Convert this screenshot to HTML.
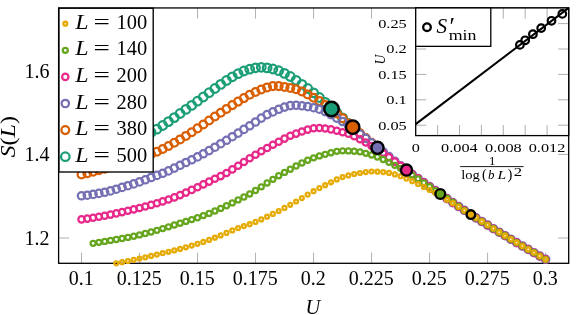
<!DOCTYPE html>
<html><head><meta charset="utf-8"><title>S(L) vs U</title>
<style>html,body{margin:0;padding:0;background:#fff}svg{display:block;will-change:transform}text{font-family:"Liberation Serif","DejaVu Serif",serif;fill:#000}</style></head><body>
<svg width="582" height="315" viewBox="0 0 582 315">
<rect width="582" height="315" fill="#fff"/>
<path d="M81.50 263.3v-10.6M81.50 7.95v10.6M139.51 263.3v-10.6M139.51 7.95v10.6M197.53 263.3v-10.6M197.53 7.95v10.6M255.54 263.3v-10.6M255.54 7.95v10.6M313.55 263.3v-10.6M313.55 7.95v10.6M371.56 263.3v-10.6M371.56 7.95v10.6M429.58 263.3v-10.6M429.58 7.95v10.6M487.59 263.3v-10.6M487.59 7.95v10.6M545.60 263.3v-10.6M545.60 7.95v10.6M58.6 238.0h10.6M568.7 238.0h-10.6M58.6 154.4h10.6M568.7 154.4h-10.6M58.6 70.8h10.6M568.7 70.8h-10.6" stroke="#858585" stroke-width="0.65" fill="none"/>
<rect x="58.6" y="7.95" width="510.1" height="255.35" fill="none" stroke="#000" stroke-width="1.3"/>
<g fill="none" stroke="#1b9e77" stroke-width="2.25">
<circle cx="81.5" cy="159.9" r="4.28"/><circle cx="87.3" cy="158.1" r="4.28"/><circle cx="93.1" cy="156.1" r="4.28"/><circle cx="98.9" cy="154.0" r="4.28"/><circle cx="104.7" cy="151.9" r="4.28"/><circle cx="110.5" cy="149.7" r="4.28"/><circle cx="116.3" cy="147.5" r="4.28"/><circle cx="122.1" cy="145.2" r="4.28"/><circle cx="127.9" cy="142.8" r="4.28"/><circle cx="133.7" cy="140.4" r="4.28"/><circle cx="139.5" cy="137.9" r="4.28"/><circle cx="145.3" cy="135.2" r="4.28"/><circle cx="151.1" cy="132.4" r="4.28"/><circle cx="156.9" cy="129.2" r="4.28"/><circle cx="162.7" cy="125.5" r="4.28"/><circle cx="168.5" cy="121.6" r="4.28"/><circle cx="174.3" cy="117.6" r="4.28"/><circle cx="180.1" cy="113.5" r="4.28"/><circle cx="185.9" cy="109.4" r="4.28"/><circle cx="191.7" cy="105.4" r="4.28"/><circle cx="197.5" cy="101.2" r="4.28"/><circle cx="203.3" cy="97.0" r="4.28"/><circle cx="209.1" cy="92.7" r="4.28"/><circle cx="214.9" cy="88.5" r="4.28"/><circle cx="220.7" cy="84.4" r="4.28"/><circle cx="226.5" cy="80.5" r="4.28"/><circle cx="232.3" cy="76.8" r="4.28"/><circle cx="238.1" cy="73.7" r="4.28"/><circle cx="243.9" cy="71.0" r="4.28"/><circle cx="249.7" cy="69.2" r="4.28"/><circle cx="255.5" cy="67.8" r="4.28"/><circle cx="261.3" cy="67.3" r="4.28"/><circle cx="267.1" cy="67.9" r="4.28"/><circle cx="272.9" cy="69.0" r="4.28"/><circle cx="278.7" cy="70.7" r="4.28"/><circle cx="284.5" cy="73.4" r="4.28"/><circle cx="290.3" cy="76.5" r="4.28"/><circle cx="296.1" cy="80.3" r="4.28"/><circle cx="301.9" cy="84.3" r="4.28"/><circle cx="307.7" cy="88.5" r="4.28"/><circle cx="313.6" cy="92.9" r="4.28"/><circle cx="319.4" cy="97.5" r="4.28"/><circle cx="325.2" cy="102.3" r="4.28"/><circle cx="331.0" cy="107.3" r="4.28"/><circle cx="336.8" cy="112.5" r="4.28"/><circle cx="342.6" cy="117.9" r="4.28"/><circle cx="348.4" cy="123.3" r="4.28"/>
</g>
<g fill="none" stroke="#d95f02" stroke-width="2.25">
<circle cx="81.5" cy="174.5" r="3.9"/><circle cx="87.3" cy="173.2" r="3.9"/><circle cx="93.1" cy="171.8" r="3.9"/><circle cx="98.9" cy="170.3" r="3.9"/><circle cx="104.7" cy="168.8" r="3.9"/><circle cx="110.5" cy="167.2" r="3.9"/><circle cx="116.3" cy="165.6" r="3.9"/><circle cx="122.1" cy="163.9" r="3.9"/><circle cx="127.9" cy="162.1" r="3.9"/><circle cx="133.7" cy="160.3" r="3.9"/><circle cx="139.5" cy="158.4" r="3.9"/><circle cx="145.3" cy="156.3" r="3.9"/><circle cx="151.1" cy="154.1" r="3.9"/><circle cx="156.9" cy="151.7" r="3.9"/><circle cx="162.7" cy="149.0" r="3.9"/><circle cx="168.5" cy="146.0" r="3.9"/><circle cx="174.3" cy="142.8" r="3.9"/><circle cx="180.1" cy="139.4" r="3.9"/><circle cx="185.9" cy="135.9" r="3.9"/><circle cx="191.7" cy="132.2" r="3.9"/><circle cx="197.5" cy="128.4" r="3.9"/><circle cx="203.3" cy="124.5" r="3.9"/><circle cx="209.1" cy="120.5" r="3.9"/><circle cx="214.9" cy="116.5" r="3.9"/><circle cx="220.7" cy="112.7" r="3.9"/><circle cx="226.5" cy="108.9" r="3.9"/><circle cx="232.3" cy="105.1" r="3.9"/><circle cx="238.1" cy="101.6" r="3.9"/><circle cx="243.9" cy="98.1" r="3.9"/><circle cx="249.7" cy="94.7" r="3.9"/><circle cx="255.5" cy="92.0" r="3.9"/><circle cx="261.3" cy="89.5" r="3.9"/><circle cx="267.1" cy="87.4" r="3.9"/><circle cx="272.9" cy="86.1" r="3.9"/><circle cx="278.7" cy="86.1" r="3.9"/><circle cx="284.5" cy="86.9" r="3.9"/><circle cx="290.3" cy="88.0" r="3.9"/><circle cx="296.1" cy="89.3" r="3.9"/><circle cx="301.9" cy="91.4" r="3.9"/><circle cx="307.7" cy="94.4" r="3.9"/><circle cx="313.6" cy="97.7" r="3.9"/><circle cx="319.4" cy="101.1" r="3.9"/><circle cx="325.2" cy="104.9" r="3.9"/><circle cx="331.0" cy="109.0" r="3.9"/><circle cx="336.8" cy="113.4" r="3.9"/><circle cx="342.6" cy="118.3" r="3.9"/><circle cx="348.4" cy="123.4" r="3.9"/><circle cx="354.2" cy="128.4" r="3.9"/><circle cx="360.0" cy="133.3" r="3.9"/><circle cx="365.8" cy="138.0" r="3.9"/><circle cx="371.6" cy="142.7" r="3.9"/>
</g>
<g fill="none" stroke="#7570b3" stroke-width="2.25">
<circle cx="81.5" cy="195.8" r="3.68"/><circle cx="87.3" cy="195.2" r="3.68"/><circle cx="93.1" cy="194.4" r="3.68"/><circle cx="98.9" cy="193.4" r="3.68"/><circle cx="104.7" cy="192.3" r="3.68"/><circle cx="110.5" cy="190.9" r="3.68"/><circle cx="116.3" cy="189.2" r="3.68"/><circle cx="122.1" cy="187.4" r="3.68"/><circle cx="127.9" cy="185.7" r="3.68"/><circle cx="133.7" cy="183.9" r="3.68"/><circle cx="139.5" cy="181.9" r="3.68"/><circle cx="145.3" cy="179.8" r="3.68"/><circle cx="151.1" cy="177.5" r="3.68"/><circle cx="156.9" cy="175.4" r="3.68"/><circle cx="162.7" cy="173.3" r="3.68"/><circle cx="168.5" cy="170.9" r="3.68"/><circle cx="174.3" cy="168.1" r="3.68"/><circle cx="180.1" cy="165.3" r="3.68"/><circle cx="185.9" cy="162.5" r="3.68"/><circle cx="191.7" cy="159.8" r="3.68"/><circle cx="197.5" cy="156.9" r="3.68"/><circle cx="203.3" cy="153.8" r="3.68"/><circle cx="209.1" cy="150.6" r="3.68"/><circle cx="214.9" cy="147.2" r="3.68"/><circle cx="220.7" cy="143.7" r="3.68"/><circle cx="226.5" cy="140.3" r="3.68"/><circle cx="232.3" cy="136.7" r="3.68"/><circle cx="238.1" cy="133.1" r="3.68"/><circle cx="243.9" cy="129.4" r="3.68"/><circle cx="249.7" cy="125.8" r="3.68"/><circle cx="255.5" cy="122.0" r="3.68"/><circle cx="261.3" cy="118.1" r="3.68"/><circle cx="267.1" cy="114.6" r="3.68"/><circle cx="272.9" cy="111.9" r="3.68"/><circle cx="278.7" cy="109.3" r="3.68"/><circle cx="284.5" cy="107.1" r="3.68"/><circle cx="290.3" cy="105.6" r="3.68"/><circle cx="296.1" cy="105.3" r="3.68"/><circle cx="301.9" cy="105.8" r="3.68"/><circle cx="307.7" cy="106.6" r="3.68"/><circle cx="313.6" cy="107.7" r="3.68"/><circle cx="319.4" cy="109.2" r="3.68"/><circle cx="325.2" cy="111.6" r="3.68"/><circle cx="331.0" cy="114.7" r="3.68"/><circle cx="336.8" cy="118.1" r="3.68"/><circle cx="342.6" cy="121.5" r="3.68"/><circle cx="348.4" cy="125.4" r="3.68"/><circle cx="354.2" cy="129.7" r="3.68"/><circle cx="360.0" cy="134.0" r="3.68"/><circle cx="365.8" cy="138.3" r="3.68"/><circle cx="371.6" cy="142.9" r="3.68"/><circle cx="377.4" cy="147.4" r="3.68"/><circle cx="383.2" cy="152.0" r="3.68"/><circle cx="389.0" cy="156.6" r="3.68"/><circle cx="394.8" cy="161.2" r="3.68"/><circle cx="400.6" cy="165.7" r="3.68"/><circle cx="406.4" cy="170.1" r="3.68"/><circle cx="412.2" cy="174.3" r="3.68"/><circle cx="418.0" cy="178.5" r="3.68"/><circle cx="423.8" cy="182.6" r="3.68"/><circle cx="429.6" cy="186.6" r="3.68"/><circle cx="435.4" cy="190.6" r="3.68"/><circle cx="441.2" cy="194.6" r="3.68"/><circle cx="447.0" cy="198.6" r="3.68"/><circle cx="452.8" cy="202.6" r="3.68"/><circle cx="458.6" cy="206.5" r="3.68"/><circle cx="464.4" cy="210.3" r="3.68"/><circle cx="470.2" cy="214.1" r="3.68"/><circle cx="476.0" cy="217.9" r="3.68"/><circle cx="481.8" cy="221.5" r="3.68"/><circle cx="487.6" cy="225.1" r="3.68"/><circle cx="493.4" cy="228.7" r="3.68"/><circle cx="499.2" cy="232.2" r="3.68"/><circle cx="505.0" cy="235.7" r="3.68"/><circle cx="510.8" cy="239.2" r="3.68"/><circle cx="516.6" cy="242.6" r="3.68"/><circle cx="522.4" cy="246.0" r="3.68"/><circle cx="528.2" cy="249.4" r="3.68"/><circle cx="534.0" cy="252.7" r="3.68"/><circle cx="539.8" cy="256.1" r="3.68"/><circle cx="545.6" cy="259.3" r="3.68"/>
</g>
<g fill="none" stroke="#e7298a" stroke-width="2.25">
<circle cx="81.5" cy="219.4" r="3.17"/><circle cx="87.3" cy="218.6" r="3.17"/><circle cx="93.1" cy="217.7" r="3.17"/><circle cx="98.9" cy="216.8" r="3.17"/><circle cx="104.7" cy="215.7" r="3.17"/><circle cx="110.5" cy="214.6" r="3.17"/><circle cx="116.3" cy="213.4" r="3.17"/><circle cx="122.1" cy="212.1" r="3.17"/><circle cx="127.9" cy="210.8" r="3.17"/><circle cx="133.7" cy="209.4" r="3.17"/><circle cx="139.5" cy="208.0" r="3.17"/><circle cx="145.3" cy="206.5" r="3.17"/><circle cx="151.1" cy="204.9" r="3.17"/><circle cx="156.9" cy="203.2" r="3.17"/><circle cx="162.7" cy="201.4" r="3.17"/><circle cx="168.5" cy="199.5" r="3.17"/><circle cx="174.3" cy="197.4" r="3.17"/><circle cx="180.1" cy="195.1" r="3.17"/><circle cx="185.9" cy="192.6" r="3.17"/><circle cx="191.7" cy="189.9" r="3.17"/><circle cx="197.5" cy="187.2" r="3.17"/><circle cx="203.3" cy="184.4" r="3.17"/><circle cx="209.1" cy="181.6" r="3.17"/><circle cx="214.9" cy="178.8" r="3.17"/><circle cx="220.7" cy="176.1" r="3.17"/><circle cx="226.5" cy="173.0" r="3.17"/><circle cx="232.3" cy="169.4" r="3.17"/><circle cx="238.1" cy="165.7" r="3.17"/><circle cx="243.9" cy="162.0" r="3.17"/><circle cx="249.7" cy="158.3" r="3.17"/><circle cx="255.5" cy="154.7" r="3.17"/><circle cx="261.3" cy="151.3" r="3.17"/><circle cx="267.1" cy="148.0" r="3.17"/><circle cx="272.9" cy="144.8" r="3.17"/><circle cx="278.7" cy="141.7" r="3.17"/><circle cx="284.5" cy="138.6" r="3.17"/><circle cx="290.3" cy="135.8" r="3.17"/><circle cx="296.1" cy="133.6" r="3.17"/><circle cx="301.9" cy="131.5" r="3.17"/><circle cx="307.7" cy="129.6" r="3.17"/><circle cx="313.6" cy="128.3" r="3.17"/><circle cx="319.4" cy="128.0" r="3.17"/><circle cx="325.2" cy="128.5" r="3.17"/><circle cx="331.0" cy="129.4" r="3.17"/><circle cx="336.8" cy="130.7" r="3.17"/><circle cx="342.6" cy="132.2" r="3.17"/><circle cx="348.4" cy="133.8" r="3.17"/><circle cx="354.2" cy="136.2" r="3.17"/><circle cx="360.0" cy="139.2" r="3.17"/><circle cx="365.8" cy="142.5" r="3.17"/><circle cx="371.6" cy="146.0" r="3.17"/><circle cx="377.4" cy="149.4" r="3.17"/><circle cx="383.2" cy="153.2" r="3.17"/><circle cx="389.0" cy="157.3" r="3.17"/><circle cx="394.8" cy="161.6" r="3.17"/><circle cx="400.6" cy="165.9" r="3.17"/><circle cx="406.4" cy="170.1" r="3.17"/><circle cx="412.2" cy="174.2" r="3.17"/><circle cx="418.0" cy="178.3" r="3.17"/><circle cx="423.8" cy="182.4" r="3.17"/><circle cx="429.6" cy="186.5" r="3.17"/><circle cx="435.4" cy="190.6" r="3.17"/><circle cx="441.2" cy="194.6" r="3.17"/><circle cx="447.0" cy="198.6" r="3.17"/><circle cx="452.8" cy="202.6" r="3.17"/><circle cx="458.6" cy="206.5" r="3.17"/><circle cx="464.4" cy="210.3" r="3.17"/><circle cx="470.2" cy="214.1" r="3.17"/><circle cx="476.0" cy="217.9" r="3.17"/><circle cx="481.8" cy="221.5" r="3.17"/><circle cx="487.6" cy="225.1" r="3.17"/><circle cx="493.4" cy="228.7" r="3.17"/><circle cx="499.2" cy="232.2" r="3.17"/><circle cx="505.0" cy="235.7" r="3.17"/><circle cx="510.8" cy="239.2" r="3.17"/><circle cx="516.6" cy="242.6" r="3.17"/><circle cx="522.4" cy="246.0" r="3.17"/><circle cx="528.2" cy="249.4" r="3.17"/><circle cx="534.0" cy="252.7" r="3.17"/><circle cx="539.8" cy="256.1" r="3.17"/><circle cx="545.6" cy="259.3" r="3.17"/>
</g>
<g fill="none" stroke="#66a61e" stroke-width="2.25">
<circle cx="93.1" cy="243.3" r="2.55"/><circle cx="98.9" cy="242.3" r="2.55"/><circle cx="104.7" cy="241.4" r="2.55"/><circle cx="110.5" cy="240.4" r="2.55"/><circle cx="116.3" cy="239.5" r="2.55"/><circle cx="122.1" cy="238.5" r="2.55"/><circle cx="127.9" cy="237.4" r="2.55"/><circle cx="133.7" cy="236.2" r="2.55"/><circle cx="139.5" cy="234.9" r="2.55"/><circle cx="145.3" cy="233.5" r="2.55"/><circle cx="151.1" cy="232.0" r="2.55"/><circle cx="156.9" cy="230.3" r="2.55"/><circle cx="162.7" cy="228.6" r="2.55"/><circle cx="168.5" cy="226.8" r="2.55"/><circle cx="174.3" cy="225.0" r="2.55"/><circle cx="180.1" cy="223.2" r="2.55"/><circle cx="185.9" cy="221.4" r="2.55"/><circle cx="191.7" cy="219.6" r="2.55"/><circle cx="197.5" cy="217.7" r="2.55"/><circle cx="203.3" cy="215.6" r="2.55"/><circle cx="209.1" cy="213.4" r="2.55"/><circle cx="214.9" cy="211.0" r="2.55"/><circle cx="220.7" cy="208.4" r="2.55"/><circle cx="226.5" cy="205.7" r="2.55"/><circle cx="232.3" cy="202.9" r="2.55"/><circle cx="238.1" cy="199.9" r="2.55"/><circle cx="243.9" cy="197.0" r="2.55"/><circle cx="249.7" cy="194.0" r="2.55"/><circle cx="255.5" cy="190.5" r="2.55"/><circle cx="261.3" cy="186.8" r="2.55"/><circle cx="267.1" cy="183.0" r="2.55"/><circle cx="272.9" cy="179.3" r="2.55"/><circle cx="278.7" cy="175.7" r="2.55"/><circle cx="284.5" cy="172.4" r="2.55"/><circle cx="290.3" cy="169.2" r="2.55"/><circle cx="296.1" cy="166.0" r="2.55"/><circle cx="301.9" cy="163.0" r="2.55"/><circle cx="307.7" cy="160.2" r="2.55"/><circle cx="313.6" cy="157.8" r="2.55"/><circle cx="319.4" cy="155.9" r="2.55"/><circle cx="325.2" cy="154.3" r="2.55"/><circle cx="331.0" cy="152.7" r="2.55"/><circle cx="336.8" cy="151.3" r="2.55"/><circle cx="342.6" cy="150.8" r="2.55"/><circle cx="348.4" cy="150.9" r="2.55"/><circle cx="354.2" cy="151.2" r="2.55"/><circle cx="360.0" cy="151.8" r="2.55"/><circle cx="365.8" cy="153.3" r="2.55"/><circle cx="371.6" cy="155.0" r="2.55"/><circle cx="377.4" cy="157.0" r="2.55"/><circle cx="383.2" cy="159.5" r="2.55"/><circle cx="389.0" cy="162.3" r="2.55"/><circle cx="394.8" cy="165.3" r="2.55"/><circle cx="400.6" cy="168.3" r="2.55"/><circle cx="406.4" cy="171.6" r="2.55"/><circle cx="412.2" cy="175.1" r="2.55"/><circle cx="418.0" cy="178.9" r="2.55"/><circle cx="423.8" cy="182.8" r="2.55"/><circle cx="429.6" cy="186.7" r="2.55"/><circle cx="435.4" cy="190.7" r="2.55"/><circle cx="441.2" cy="194.6" r="2.55"/><circle cx="447.0" cy="198.5" r="2.55"/><circle cx="452.8" cy="202.4" r="2.55"/><circle cx="458.6" cy="206.4" r="2.55"/><circle cx="464.4" cy="210.3" r="2.55"/><circle cx="470.2" cy="214.1" r="2.55"/><circle cx="476.0" cy="217.9" r="2.55"/><circle cx="481.8" cy="221.5" r="2.55"/><circle cx="487.6" cy="225.1" r="2.55"/><circle cx="493.4" cy="228.7" r="2.55"/><circle cx="499.2" cy="232.2" r="2.55"/><circle cx="505.0" cy="235.7" r="2.55"/><circle cx="510.8" cy="239.2" r="2.55"/><circle cx="516.6" cy="242.6" r="2.55"/><circle cx="522.4" cy="246.0" r="2.55"/><circle cx="528.2" cy="249.4" r="2.55"/><circle cx="534.0" cy="252.7" r="2.55"/><circle cx="539.8" cy="256.1" r="2.55"/><circle cx="545.6" cy="259.3" r="2.55"/>
</g>
<g fill="none" stroke="#e6ab02" stroke-width="2.3">
<circle cx="116.3" cy="263.3" r="1.95"/><circle cx="122.1" cy="262.2" r="1.95"/><circle cx="127.9" cy="261.0" r="1.95"/><circle cx="133.7" cy="259.8" r="1.95"/><circle cx="139.5" cy="258.5" r="1.95"/><circle cx="145.3" cy="257.3" r="1.95"/><circle cx="151.1" cy="255.9" r="1.95"/><circle cx="156.9" cy="254.6" r="1.95"/><circle cx="162.7" cy="253.2" r="1.95"/><circle cx="168.5" cy="251.8" r="1.95"/><circle cx="174.3" cy="250.4" r="1.95"/><circle cx="180.1" cy="248.9" r="1.95"/><circle cx="185.9" cy="247.3" r="1.95"/><circle cx="191.7" cy="245.6" r="1.95"/><circle cx="197.5" cy="243.8" r="1.95"/><circle cx="203.3" cy="241.9" r="1.95"/><circle cx="209.1" cy="239.9" r="1.95"/><circle cx="214.9" cy="237.7" r="1.95"/><circle cx="220.7" cy="235.4" r="1.95"/><circle cx="226.5" cy="232.9" r="1.95"/><circle cx="232.3" cy="230.4" r="1.95"/><circle cx="238.1" cy="228.1" r="1.95"/><circle cx="243.9" cy="226.1" r="1.95"/><circle cx="249.7" cy="224.2" r="1.95"/><circle cx="255.5" cy="221.9" r="1.95"/><circle cx="261.3" cy="219.4" r="1.95"/><circle cx="267.1" cy="216.7" r="1.95"/><circle cx="272.9" cy="213.9" r="1.95"/><circle cx="278.7" cy="211.0" r="1.95"/><circle cx="284.5" cy="207.9" r="1.95"/><circle cx="290.3" cy="204.8" r="1.95"/><circle cx="296.1" cy="201.5" r="1.95"/><circle cx="301.9" cy="198.1" r="1.95"/><circle cx="307.7" cy="194.6" r="1.95"/><circle cx="313.6" cy="191.2" r="1.95"/><circle cx="319.4" cy="188.1" r="1.95"/><circle cx="325.2" cy="185.2" r="1.95"/><circle cx="331.0" cy="182.3" r="1.95"/><circle cx="336.8" cy="179.4" r="1.95"/><circle cx="342.6" cy="177.1" r="1.95"/><circle cx="348.4" cy="175.4" r="1.95"/><circle cx="354.2" cy="174.0" r="1.95"/><circle cx="360.0" cy="173.0" r="1.95"/><circle cx="365.8" cy="172.1" r="1.95"/><circle cx="371.6" cy="171.5" r="1.95"/><circle cx="377.4" cy="171.7" r="1.95"/><circle cx="383.2" cy="172.1" r="1.95"/><circle cx="389.0" cy="172.9" r="1.95"/><circle cx="394.8" cy="174.4" r="1.95"/><circle cx="400.6" cy="176.2" r="1.95"/><circle cx="406.4" cy="178.6" r="1.95"/><circle cx="412.2" cy="181.2" r="1.95"/><circle cx="418.0" cy="184.0" r="1.95"/><circle cx="423.8" cy="186.9" r="1.95"/><circle cx="429.6" cy="189.9" r="1.95"/><circle cx="435.4" cy="192.9" r="1.95"/><circle cx="441.2" cy="196.2" r="1.95"/><circle cx="447.0" cy="199.7" r="1.95"/><circle cx="452.8" cy="203.2" r="1.95"/><circle cx="458.6" cy="206.8" r="1.95"/><circle cx="464.4" cy="210.5" r="1.95"/><circle cx="470.2" cy="214.2" r="1.95"/><circle cx="476.0" cy="217.8" r="1.95"/><circle cx="481.8" cy="221.4" r="1.95"/><circle cx="487.6" cy="225.0" r="1.95"/><circle cx="493.4" cy="228.6" r="1.95"/><circle cx="499.2" cy="232.2" r="1.95"/><circle cx="505.0" cy="235.7" r="1.95"/><circle cx="510.8" cy="239.2" r="1.95"/><circle cx="516.6" cy="242.6" r="1.95"/><circle cx="522.4" cy="246.0" r="1.95"/><circle cx="528.2" cy="249.4" r="1.95"/><circle cx="534.0" cy="252.7" r="1.95"/><circle cx="539.8" cy="256.1" r="1.95"/><circle cx="545.6" cy="259.3" r="1.95"/>
</g>
<circle cx="470.9" cy="214.6" r="4.30" fill="#e6ab02" stroke="#000" stroke-width="2.4"/>
<circle cx="440.3" cy="194" r="4.90" fill="#66a61e" stroke="#000" stroke-width="2.4"/>
<circle cx="406.5" cy="170.1" r="5.55" fill="#e7298a" stroke="#000" stroke-width="2.4"/>
<circle cx="377.5" cy="147.8" r="6.10" fill="#7570b3" stroke="#000" stroke-width="2.4"/>
<circle cx="352.7" cy="127.2" r="6.70" fill="#d95f02" stroke="#000" stroke-width="2.4"/>
<circle cx="331.5" cy="109.0" r="7.25" fill="#1b9e77" stroke="#000" stroke-width="2.4"/>
<rect x="59.0" y="8.25" width="94.20" height="163.75" fill="#fff" stroke="#000" stroke-width="1.35"/>
<circle cx="65.3" cy="23.7" r="1.95" fill="none" stroke="#e6ab02" stroke-width="2.3"/>
<text y="28.8" font-size="20.4"><tspan x="75.2" font-style="italic" textLength="13.3" lengthAdjust="spacingAndGlyphs">L</tspan><tspan x="93.4" textLength="16.4" lengthAdjust="spacingAndGlyphs">=</tspan><tspan x="116.6">100</tspan></text>
<circle cx="65.3" cy="50.3" r="2.55" fill="none" stroke="#66a61e" stroke-width="2.25"/>
<text y="55.4" font-size="20.4"><tspan x="75.2" font-style="italic" textLength="13.3" lengthAdjust="spacingAndGlyphs">L</tspan><tspan x="93.4" textLength="16.4" lengthAdjust="spacingAndGlyphs">=</tspan><tspan x="116.6">140</tspan></text>
<circle cx="65.3" cy="76.9" r="3.17" fill="none" stroke="#e7298a" stroke-width="2.25"/>
<text y="82.0" font-size="20.4"><tspan x="75.2" font-style="italic" textLength="13.3" lengthAdjust="spacingAndGlyphs">L</tspan><tspan x="93.4" textLength="16.4" lengthAdjust="spacingAndGlyphs">=</tspan><tspan x="116.6">200</tspan></text>
<circle cx="65.3" cy="103.5" r="3.68" fill="none" stroke="#7570b3" stroke-width="2.25"/>
<text y="108.6" font-size="20.4"><tspan x="75.2" font-style="italic" textLength="13.3" lengthAdjust="spacingAndGlyphs">L</tspan><tspan x="93.4" textLength="16.4" lengthAdjust="spacingAndGlyphs">=</tspan><tspan x="116.6">280</tspan></text>
<circle cx="65.3" cy="130.1" r="3.9" fill="none" stroke="#d95f02" stroke-width="2.25"/>
<text y="135.2" font-size="20.4"><tspan x="75.2" font-style="italic" textLength="13.3" lengthAdjust="spacingAndGlyphs">L</tspan><tspan x="93.4" textLength="16.4" lengthAdjust="spacingAndGlyphs">=</tspan><tspan x="116.6">380</tspan></text>
<circle cx="65.3" cy="156.7" r="4.28" fill="none" stroke="#1b9e77" stroke-width="2.25"/>
<text y="161.8" font-size="20.4"><tspan x="75.2" font-style="italic" textLength="13.3" lengthAdjust="spacingAndGlyphs">L</tspan><tspan x="93.4" textLength="16.4" lengthAdjust="spacingAndGlyphs">=</tspan><tspan x="116.6">500</tspan></text>
<text x="81.2" y="285.1" font-size="20" text-anchor="middle">0.1</text>
<text x="139.2" y="285.1" font-size="20" text-anchor="middle">0.125</text>
<text x="197.2" y="285.1" font-size="20" text-anchor="middle">0.15</text>
<text x="255.2" y="285.1" font-size="20" text-anchor="middle">0.175</text>
<text x="313.2" y="285.1" font-size="20" text-anchor="middle">0.2</text>
<text x="371.3" y="285.1" font-size="20" text-anchor="middle">0.225</text>
<text x="429.3" y="285.1" font-size="20" text-anchor="middle">0.25</text>
<text x="487.3" y="285.1" font-size="20" text-anchor="middle">0.275</text>
<text x="545.3" y="285.1" font-size="20" text-anchor="middle">0.3</text>
<text x="49.6" y="244.8" font-size="20" text-anchor="end">1.2</text>
<text x="49.6" y="161.2" font-size="20" text-anchor="end">1.4</text>
<text x="49.6" y="77.6" font-size="20" text-anchor="end">1.6</text>
<text x="305.6" y="314.3" font-size="20.4" font-style="italic">U</text>
<text transform="translate(15.2,157.6) rotate(-90)" font-size="20.4" textLength="41.6" lengthAdjust="spacingAndGlyphs"><tspan font-style="italic">S</tspan>(<tspan font-style="italic">L</tspan>)</text>
<rect x="415.7" y="7.95" width="153.0" height="127.65" fill="#fff"/>
<path d="M437.60 135.6v-10.6M437.60 7.95v10.6M459.50 135.6v-10.6M459.50 7.95v10.6M481.40 135.6v-10.6M481.40 7.95v10.6M503.30 135.6v-10.6M503.30 7.95v10.6M525.20 135.6v-10.6M525.20 7.95v10.6M547.10 135.6v-10.6M547.10 7.95v10.6M415.7 125.2h10.6M568.7 125.2h-10.6M415.7 99.8h10.6M568.7 99.8h-10.6M415.7 74.4h10.6M568.7 74.4h-10.6M415.7 49.0h10.6M568.7 49.0h-10.6M415.7 23.6h10.6M568.7 23.6h-10.6" stroke="#858585" stroke-width="0.65" fill="none"/>
<path d="M415.7 124.2L568.7 7.9" stroke="#000" stroke-width="2.1" fill="none"/>
<g fill="none" stroke="#000" stroke-width="2.2"><circle cx="519.9" cy="44.9" r="3.8"/><circle cx="525.2" cy="40.3" r="3.8"/><circle cx="532.9" cy="34.2" r="3.8"/><circle cx="541.2" cy="28.1" r="3.8"/><circle cx="551.5" cy="20.8" r="3.8"/><circle cx="562.3" cy="13.9" r="3.8"/></g>
<rect x="415.7" y="7.95" width="153.0" height="127.65" fill="none" stroke="#000" stroke-width="1.3"/>
<rect x="415.7" y="7.95" width="75.1" height="38.4" fill="#fff" stroke="#000" stroke-width="1.3"/>
<circle cx="427.0" cy="27.2" r="3.8" fill="none" stroke="#000" stroke-width="2.3"/>
<text x="436.6" y="33.1" font-size="20.4" font-style="italic" textLength="10.6" lengthAdjust="spacingAndGlyphs">S</text>
<text x="449.4" y="34.5" font-size="25">′</text>
<text x="448.7" y="39.5" font-size="14.2" textLength="27.8" lengthAdjust="spacingAndGlyphs">min</text>
<text x="378.2" y="129.6" font-size="13.3" textLength="28.6" lengthAdjust="spacingAndGlyphs">0.05</text>
<text x="386.3" y="104.2" font-size="13.3" textLength="20.5" lengthAdjust="spacingAndGlyphs">0.1</text>
<text x="378.2" y="78.8" font-size="13.3" textLength="28.6" lengthAdjust="spacingAndGlyphs">0.15</text>
<text x="386.3" y="53.4" font-size="13.3" textLength="20.5" lengthAdjust="spacingAndGlyphs">0.2</text>
<text x="378.2" y="28.0" font-size="13.3" textLength="28.6" lengthAdjust="spacingAndGlyphs">0.25</text>
<text x="411.7" y="152.3" font-size="13.3" textLength="8.1" lengthAdjust="spacingAndGlyphs">0</text>
<text x="441.1" y="152.3" font-size="13.3" textLength="36.6" lengthAdjust="spacingAndGlyphs">0.004</text>
<text x="485.1" y="152.3" font-size="13.3" textLength="36.6" lengthAdjust="spacingAndGlyphs">0.008</text>
<text x="528.7" y="152.3" font-size="13.3" textLength="36.6" lengthAdjust="spacingAndGlyphs">0.012</text>
<text transform="translate(385,64.6) rotate(-90)" font-size="13.6" font-style="italic">U</text>
<text x="489.0" y="164.7" font-size="11.5" textLength="6.4" lengthAdjust="spacingAndGlyphs">1</text>
<path d="M460.2 166.6H523.6" stroke="#000" stroke-width="0.9"/>
<text y="178.8" font-size="13"><tspan x="461.2" textLength="18.6" lengthAdjust="spacingAndGlyphs">log</tspan><tspan x="482.0" font-size="14.5">(</tspan><tspan x="488.0" font-style="italic">b</tspan><tspan x="497.6" font-style="italic" textLength="8.6" lengthAdjust="spacingAndGlyphs">L</tspan><tspan x="507.6" font-size="14.5">)</tspan></text>
<text x="513.8" y="175.5" font-size="11.5" textLength="8.4" lengthAdjust="spacingAndGlyphs">2</text>
</svg></body></html>
